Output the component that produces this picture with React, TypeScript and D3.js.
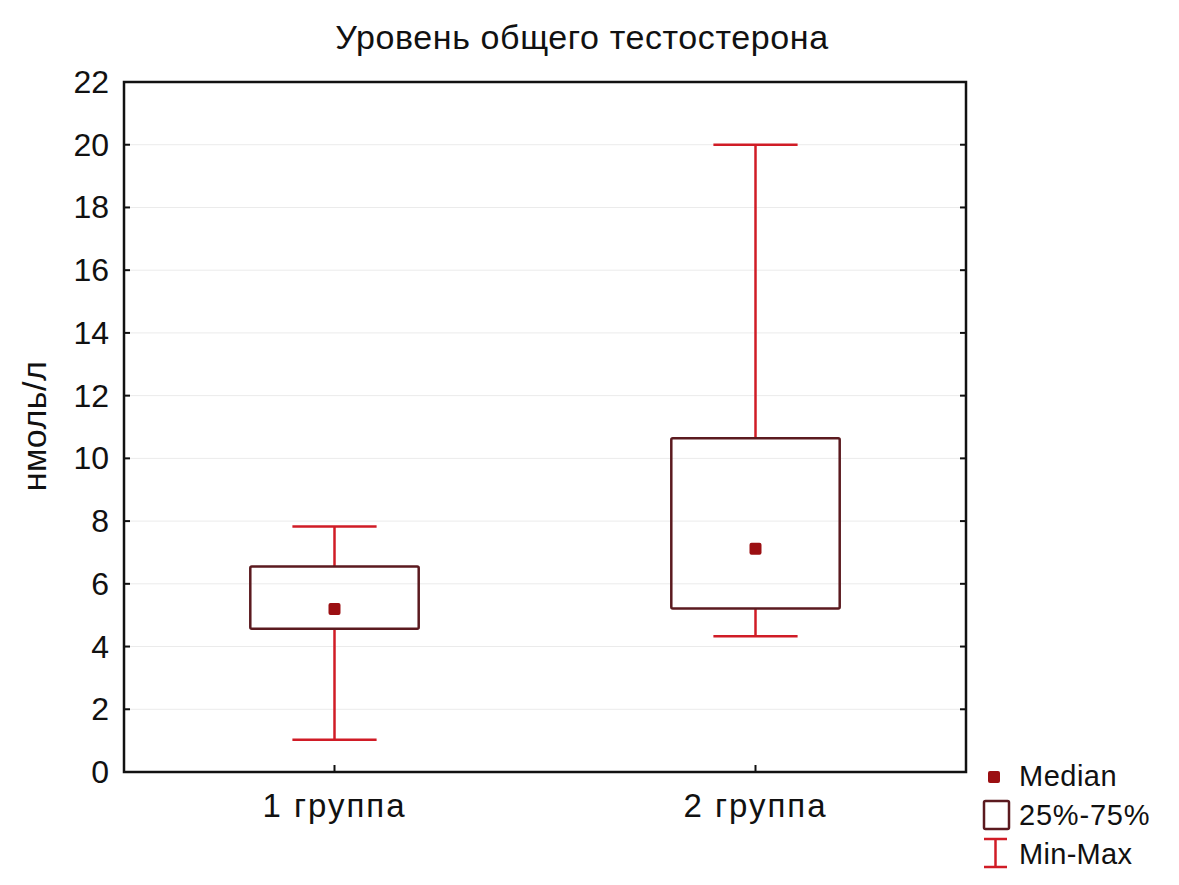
import React from "react";
import * as d3 from "d3";

const categories = ["1 группа", "2 группа"];
const minValues = [1.03, 4.33];
const q1Values = [4.57, 5.21];
const medianValues = [5.2, 7.12];
const q3Values = [6.55, 10.64];
const maxValues = [7.83, 20.0];
const yTicks = [0, 2, 4, 6, 8, 10, 12, 14, 16, 18, 20, 22];
const legendLabels = ["Median", "25%-75%", "Min-Max"];

const W = 1179;
const H = 885;
const left = 124, right = 966, top = 82, bottom = 772;

const WHISKER = "#d01c26";
const BOX = "#5b1a1f";
const MED = "#9b0f12";
const FONT = "'Liberation Sans', Arial, sans-serif";

export default function App() {
  const x = d3.scaleBand<string>().domain(categories).range([left, right]);
  const y = d3.scaleLinear().domain([0, 22]).range([bottom, top]);
  const bw = x.bandwidth();
  const boxW = bw * 0.4;
  const capW = bw * 0.2;

  return (
    <svg width={W} height={H} style={{ position: "absolute", left: 0, top: 0, background: "#fff" }}>
      <rect x={0} y={0} width={W} height={H} fill="#fff" />
      <text x={582} y={49} textAnchor="middle" fontFamily={FONT} fontSize={34} letterSpacing={0.6} fill="#111">
        Уровень общего тестостерона
      </text>
      {yTicks.filter((t) => t > 0 && t < 22).map((t) => (
        <line key={"g" + t} x1={left} x2={right} y1={y(t)} y2={y(t)} stroke="#ebebeb" strokeWidth={1} />
      ))}
      {categories.map((c, i) => {
        const cx = x(c)! + bw / 2;
        return (
          <g key={c}>
            <line x1={cx} x2={cx} y1={y(maxValues[i])} y2={y(q3Values[i])} stroke={WHISKER} strokeWidth={2.5} />
            <line x1={cx} x2={cx} y1={y(q1Values[i])} y2={y(minValues[i])} stroke={WHISKER} strokeWidth={2.5} />
            <line x1={cx - capW / 2} x2={cx + capW / 2} y1={y(maxValues[i])} y2={y(maxValues[i])} stroke={WHISKER} strokeWidth={2.5} />
            <line x1={cx - capW / 2} x2={cx + capW / 2} y1={y(minValues[i])} y2={y(minValues[i])} stroke={WHISKER} strokeWidth={2.5} />
            <rect x={cx - boxW / 2} y={y(q3Values[i])} width={boxW} height={y(q1Values[i]) - y(q3Values[i])} fill="none" stroke={BOX} strokeWidth={2.5} rx={1.5} />
            <rect x={cx - 6} y={y(medianValues[i]) - 6} width={12} height={12} fill={MED} rx={2} />
            <line x1={cx} x2={cx} y1={bottom} y2={bottom - 7} stroke="#111" strokeWidth={2} />
            <text x={cx} y={bottom + 45} textAnchor="middle" fontFamily={FONT} fontSize={33} letterSpacing={2} fill="#111">{c}</text>
          </g>
        );
      })}
      {yTicks.map((t) => (
        <g key={"t" + t}>
          <line x1={left} x2={left + 6} y1={y(t)} y2={y(t)} stroke="#111" strokeWidth={2} />
          <line x1={right} x2={right - 6} y1={y(t)} y2={y(t)} stroke="#111" strokeWidth={2} />
          <text x={left - 15} y={y(t) + 11} textAnchor="end" fontFamily={FONT} fontSize={32} fill="#111">{t}</text>
        </g>
      ))}
      <rect x={left} y={top} width={right - left} height={bottom - top} fill="none" stroke="#111" strokeWidth={2.5} />
      <text transform={`translate(46, 426) rotate(-90)`} textAnchor="middle" fontFamily={FONT} fontSize={34} letterSpacing={0.5} fill="#111">
        нмоль/л
      </text>
      {/* legend */}
      <rect x={988} y={771} width={12} height={12} fill={MED} rx={2} />
      <text x={1019} y={786} fontFamily={FONT} fontSize={29} letterSpacing={0.5} fill="#111">{legendLabels[0]}</text>
      <rect x={984} y={801} width={25} height={28} fill="none" stroke={BOX} strokeWidth={2.5} rx={1.5} />
      <text x={1019} y={825} fontFamily={FONT} fontSize={29} letterSpacing={0.8} fill="#111">{legendLabels[1]}</text>
      <line x1={995.5} x2={995.5} y1={839} y2={867} stroke={WHISKER} strokeWidth={2.5} />
      <line x1={984} x2={1007} y1={839} y2={839} stroke={WHISKER} strokeWidth={2.5} />
      <line x1={984} x2={1007} y1={867} y2={867} stroke={WHISKER} strokeWidth={2.5} />
      <text x={1019} y={864} fontFamily={FONT} fontSize={29} letterSpacing={0.3} fill="#111">{legendLabels[2]}</text>
    </svg>
  );
}
